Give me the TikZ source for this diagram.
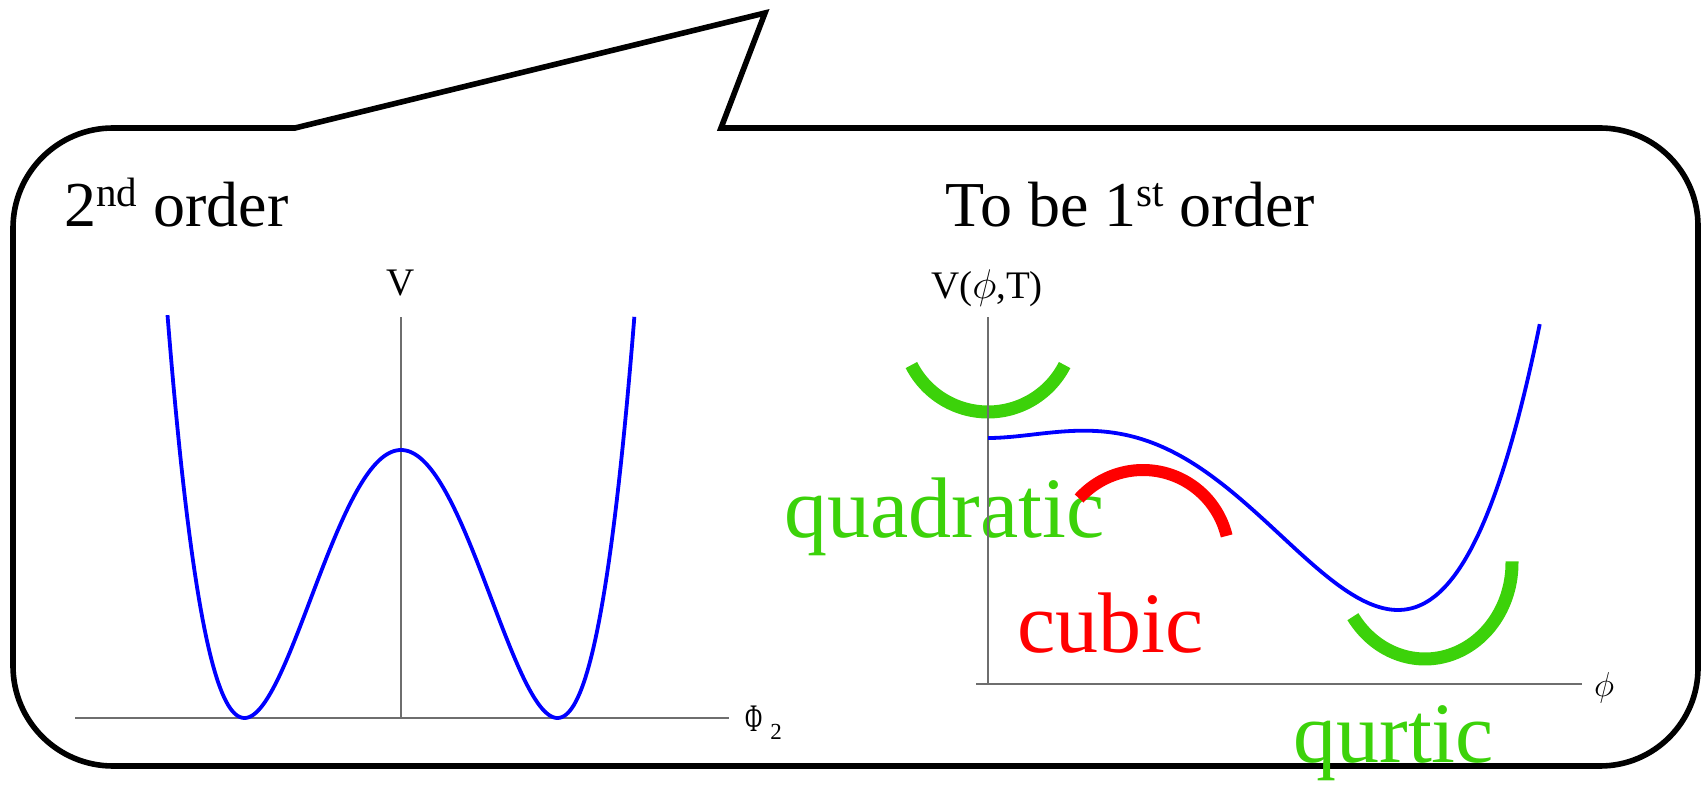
\documentclass[tikz,border=0pt]{standalone}
\usepackage{fontspec}
\setmainfont{Liberation Serif}
\usepackage{graphicx}
\definecolor{grn}{RGB}{60,210,10}
\definecolor{axgray}{RGB}{110,110,110}
\begin{document}
\begin{tikzpicture}[x=0.5pt,y=-0.5pt,
  axisline/.style={draw=axgray,line width=0.8pt},
  curve/.style={draw=blue,line width=1.9pt,line join=round},
  arcg/.style={draw=grn,line width=6.5pt,line join=round},
  arcr/.style={draw=red,line width=6pt,line join=round},
  big/.style={font=\fontsize{43}{43}\selectfont,inner sep=0pt,anchor=base west},
  ttl/.style={font=\fontsize{32}{32}\selectfont,inner sep=0pt,anchor=base west},
  lab/.style={font=\fontsize{19.5}{19.5}\selectfont,inner sep=0pt,anchor=base}]
\useasboundingbox (0,0) rectangle (1701,785);

% callout box
\draw[line width=2.8pt,line join=miter] (113,128) -- (295,128) -- (765,13) -- (721,128) -- (1600,128)
  arc[start angle=90,end angle=0,radius=49pt] -- (1698,668)
  arc[start angle=0,end angle=-90,radius=49pt] -- (113,766)
  arc[start angle=-90,end angle=-180,radius=50pt] -- (13,228)
  arc[start angle=180,end angle=90,radius=50pt] -- cycle;

% titles
\node[ttl] (t1) at (64,227) {2\raisebox{10pt}{\fontsize{20.5}{20.5}\selectfont nd} order};
\node[ttl] (t2) at (945,227) {To be 1\raisebox{10pt}{\fontsize{20.5}{20.5}\selectfont st} order};

% big labels
\node[big,text=grn] (quad) at (784,538) {quadratic};
\node[big,text=red] (cub) at (1017,652) {cubic};
\node[big,text=grn] (qurt) at (1293,762) {qurtic};

% arcs
\draw[arcg] plot[domain=27:153,samples=60] ({988+86*cos(\x)},{326+86*sin(\x)});
\draw[arcr] plot[domain=-138:-13.5,samples=60] ({1143+86*cos(\x)},{556+86*sin(\x)});
\draw[arcg] plot[domain=-1:146,samples=60] ({1425+87*cos(\x)},{563+96*sin(\x)});

% left plot
\coordinate (lx0) at (75,718);
\coordinate (lx1) at (729,718);
\coordinate (ly0) at (401,718);
\coordinate (ly1) at (401,317);
\draw[axisline] (lx0) -- (lx1);
\draw[axisline] (ly0) -- (ly1);
\draw[curve] plot[domain=-1.492:1.492,samples=240] ({401+156.5*\x},{718-268*(\x*\x-1)*(\x*\x-1)});
\node[lab] (vl) at (401,296) {V};
\node[font=\fontsize{19.5}{19.5}\selectfont,inner sep=0pt,anchor=base west] (phiA) at (745,731) {\scalebox{0.6}[1]{Φ}};
\node[font=\fontsize{11.5}{11.5}\selectfont,inner sep=0pt,anchor=base west] (phiAsub) at (770,739) {2};

% right plot
\coordinate (rx0) at (976,684);
\coordinate (rx1) at (1582,684);
\coordinate (ry0) at (988,684);
\coordinate (ry1) at (988,317);
\draw[axisline] (rx0) -- (rx1);
\draw[axisline] (ry0) -- (ry1);
\draw[curve] plot[domain=0:1.349,samples=240] ({988+410*\x},{438-970*(\x*\x*\x*\x-1.6453*\x*\x*\x+0.468*\x*\x)});
\node[lab] (vr) at (987,299) {V($\phi$,T)};
\node[font=\fontsize{17.5}{17.5}\selectfont,inner sep=0pt,anchor=center] (phiB) at (1604,688) {$\phi$};
\end{tikzpicture}
\end{document}
